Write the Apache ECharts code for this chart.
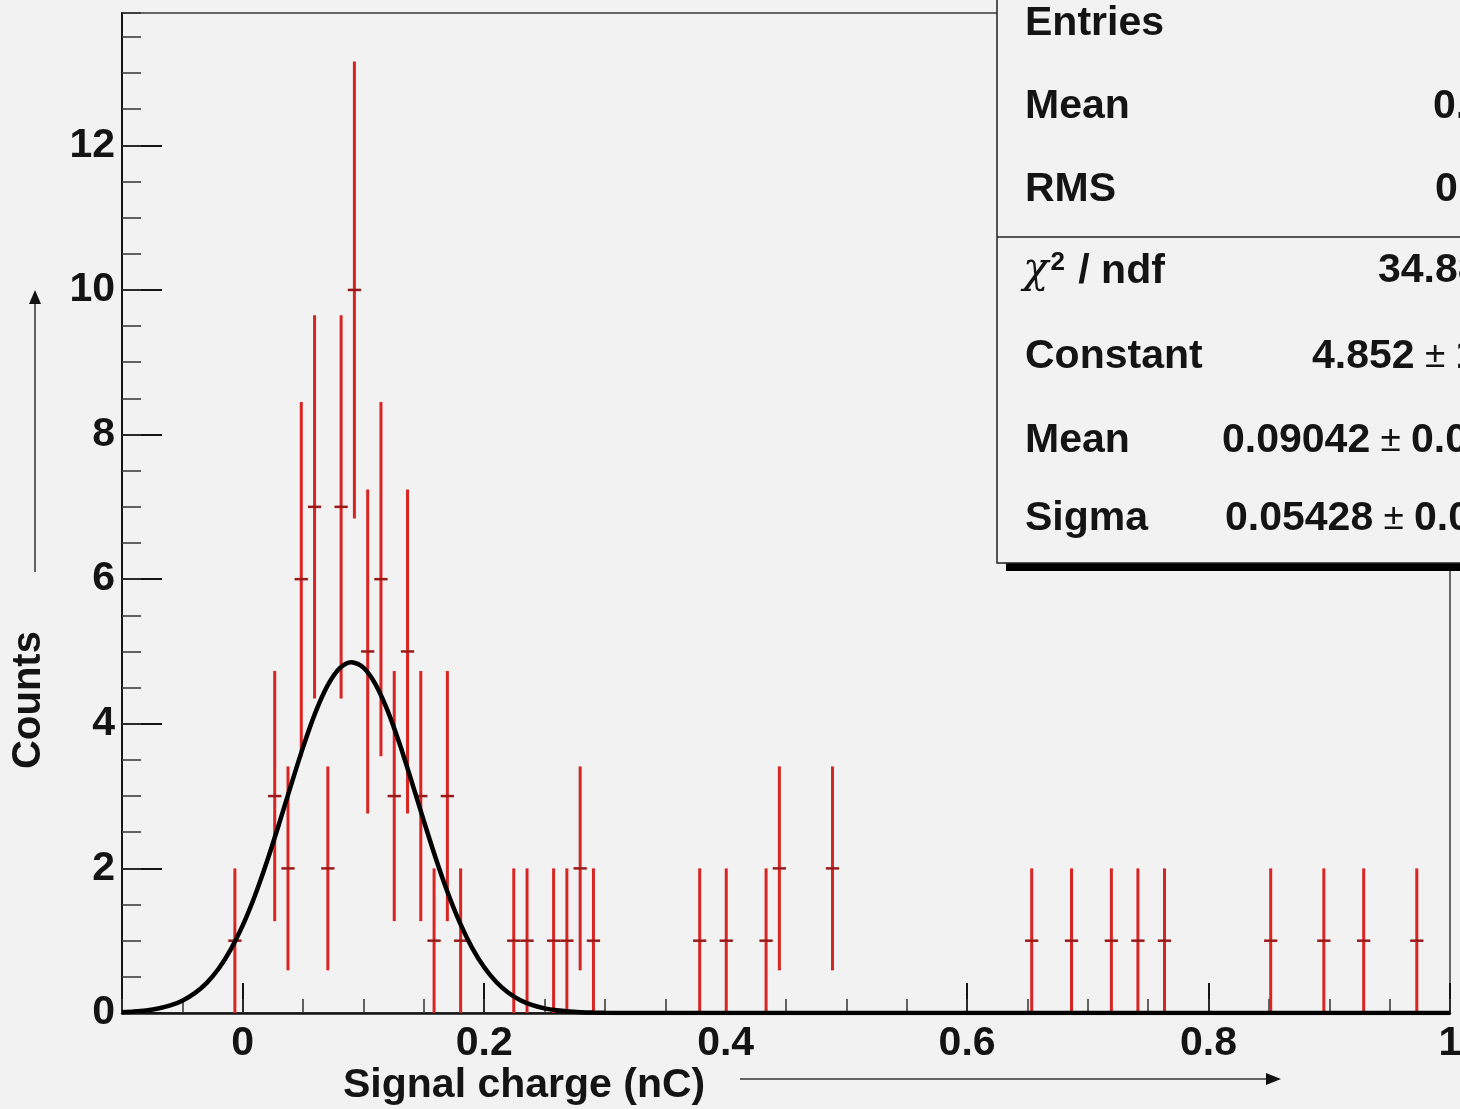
<!DOCTYPE html>
<html>
<head>
<meta charset="utf-8">
<script src="https://cdn.jsdelivr.net/npm/echarts@6/dist/echarts.min.js"></script>
<style>
html,body{margin:0;padding:0;background:#f2f2f2;}
#c{width:1460px;height:1109px;}
</style>
</head>
<body>
<div id="c"></div>
<script>
// ---------- data ----------
const binCenters = [-0.0065,0.0265,0.0375,0.0485,0.0595,0.0705,0.0815,0.0925,0.1035,0.1145,0.1255,0.1365,0.1475,0.1585,0.1695,0.1805,
                    0.2245,0.2355,0.2575,0.2685,0.2795,0.2905,0.3785,0.4005,0.4335,0.4445,0.4885,
                    0.6535,0.6865,0.7195,0.7415,0.7635,0.8515,0.8955,0.9285,0.9725];
const counts = [1,3,2,6,7,2,7,10,5,6,3,5,3,1,3,1,
                1,1,1,1,2,1,1,1,1,2,2,
                1,1,1,1,1,1,1,1,1];
const errors = [1,1.73,1.41,2.45,2.65,1.41,2.65,3.16,2.24,2.45,1.73,2.24,1.73,1,1.73,1,
                1,1,1,1,1.41,1,1,1,1,1.41,1.41,
                1,1,1,1,1,1,1,1,1];
const binWidth = 0.011;

// Gaussian fit curve (Constant 4.852, Mean 0.09042, Sigma 0.05428), sampled values
const fitX = [-0.10,-0.09,-0.08,-0.07,-0.06,-0.05,-0.04,-0.03,-0.02,-0.01,0.00,0.01,0.02,0.03,0.04,0.05,0.06,0.07,0.08,0.09,
              0.10,0.11,0.12,0.13,0.14,0.15,0.16,0.17,0.18,0.19,0.20,0.21,0.22,0.23,0.24,0.25,0.26,0.27,0.28,0.29,0.30,
              0.32,0.35,0.40,0.60,0.80,1.00];
const fitY = [0.0103,0.0194,0.0351,0.0616,0.1043,0.1709,0.2707,0.4141,0.6127,0.8763,1.2115,1.619,2.092,2.611,3.152,3.677,4.147,4.521,4.763,4.852,
              4.777,4.546,4.182,3.719,3.197,2.657,2.134,1.656,1.243,0.9015,0.6322,0.4287,0.2808,0.1779,0.1089,0.0644,0.0368,0.0204,0.0109,0.0056,0.0028,
              0.0006,0,0,0,0,0];

const xTickValues = [0,0.2,0.4,0.6,0.8,1];
const yTickValues = [0,2,4,6,8,10,12];
const xRange = [-0.1, 1.0];
const yRange = [0, 13.83];

const xTitle = 'Signal charge (nC)';
const yTitle = 'Counts';
const statsLabels = ['Entries','Mean','RMS','CHI','Constant','Mean','Sigma'];
const statsValues = ['', '0.', '0.', '34.88', '4.852 ± 1', '0.09042 ± 0.0', '0.05428 ± 0.0'];

// ---------- styling ----------
const FONT = '"Liberation Sans", Arial, Helvetica, sans-serif';
const BG = '#f2f2f2';
const INK = '#141414';
const RED = '#d92424';

const chart = echarts.init(document.getElementById('c'), null, {renderer:'canvas'});

const barData = binCenters.map((x,i)=>[x, counts[i], errors[i]]);
const fitData = fitX.map((x,i)=>[x, fitY[i]]);

const rowY = [24, 107, 190, 271, 357, 441, 519];
const valueX = [null, 1433, 1435, 1378, 1312, 1222, 1225];

const statsGraphics = [];
statsGraphics.push({type:'rect', z:100, shape:{x:1006, y:-10, width:520, height:581}, style:{fill:'#000'}});
statsGraphics.push({type:'rect', z:101, shape:{x:997, y:-10, width:520, height:573}, style:{fill:BG, stroke:'#222', lineWidth:1.5}});
statsGraphics.push({type:'line', z:102, shape:{x1:997, y1:237, x2:1470, y2:237}, style:{stroke:'#222', lineWidth:1.5}});
statsLabels.forEach((lab,i)=>{
  if (lab === 'CHI') {
    statsGraphics.push({type:'text', z:103, x:1023, y:rowY[i],
      style:{text:'{c|χ}{s|2}{t| / ndf}', verticalAlign:'middle', align:'left',
        rich:{
          c:{font:'italic 42px "DejaVu Serif", serif', fill:INK, verticalAlign:'bottom'},
          s:{font:'bold 26px '+FONT, fill:INK, verticalAlign:'top', padding:[0,2,0,2]},
          t:{font:'bold 41px '+FONT, fill:INK, verticalAlign:'bottom'}
        }}});
  } else {
    statsGraphics.push({type:'text', z:103, x:1025, y:rowY[i],
      style:{text:lab, font:'bold 41px '+FONT, fill:INK, align:'left', verticalAlign:'middle'}});
  }
  if (statsValues[i]) {
    const parts = statsValues[i].split(' ± ');
    let txt = '{v|'+parts[0]+'}';
    if (parts.length > 1) txt += '{p| ± }{v|'+parts[1]+'}';
    statsGraphics.push({type:'text', z:103, x:valueX[i], y:rowY[i],
      style:{text:txt, align:'left', verticalAlign:'middle',
        rich:{v:{font:'bold 41px '+FONT, fill:INK}, p:{font:'37px '+FONT, fill:INK}}}});
  }
});

const option = {
  backgroundColor: BG,
  animation: false,
  grid: {left:122, right:10, top:13, bottom:96, show:true, borderColor:'#3a3a3a', borderWidth:1.5,
         backgroundColor:'transparent', containLabel:false, outerBoundsMode:'none'},
  xAxis: [
    {type:'value', min:xRange[0], max:xRange[1], position:'bottom',
     axisLine:{onZero:false, lineStyle:{color:INK, width:2.5}},
     axisTick:{inside:true, length:30, customValues:xTickValues, lineStyle:{color:INK, width:2}},
     axisLabel:{customValues:xTickValues, margin:10, fontSize:41, fontWeight:'bold', fontFamily:FONT, color:INK},
     splitLine:{show:false}},
    {type:'value', min:xRange[0], max:xRange[1], interval:0.05, position:'bottom',
     axisLine:{show:false, onZero:false},
     axisTick:{inside:true, length:14, lineStyle:{color:'#333', width:1.5}},
     axisLabel:{show:false}, splitLine:{show:false}}
  ],
  yAxis: [
    {type:'value', min:yRange[0], max:yRange[1], position:'left',
     axisLine:{show:true, onZero:false, lineStyle:{color:INK, width:2}},
     axisTick:{show:true, inside:true, length:40, customValues:yTickValues, lineStyle:{color:INK, width:2}},
     axisLabel:{customValues:yTickValues, margin:7, padding:[10,0,0,0], fontSize:41, fontWeight:'bold', fontFamily:FONT, color:INK},
     splitLine:{show:false}},
    {type:'value', min:yRange[0], max:yRange[1], interval:0.5, position:'left',
     axisLine:{show:false, onZero:false},
     axisTick:{show:true, inside:true, length:19, lineStyle:{color:'#333', width:1.5}},
     axisLabel:{show:false}, splitLine:{show:false}}
  ],
  series: [
    {type:'custom', xAxisIndex:0, yAxisIndex:0, data:barData, encode:{x:0, y:1}, z:2, clip:false,
     renderItem: function(params, api){
       const x = api.value(0), v = api.value(1), e = api.value(2);
       const top = api.coord([x, v+e]), bot = api.coord([x, v-e]);
       const l = api.coord([x-binWidth/2, v]), r = api.coord([x+binWidth/2, v]);
       return {type:'group', children:[
         {type:'line', shape:{x1:top[0], y1:top[1], x2:bot[0], y2:bot[1]}, style:{stroke:RED, lineWidth:3}},
         {type:'line', shape:{x1:l[0], y1:l[1], x2:r[0], y2:r[1]}, style:{stroke:'#9a1a1a', lineWidth:2.5}}
       ]};
     }},
    {type:'line', xAxisIndex:0, yAxisIndex:0, data:fitData, symbol:'none', smooth:0.3, z:3,
     lineStyle:{color:'#000', width:4.5}}
  ],
  graphic: [
    {type:'text', x:343, y:1086, style:{text:xTitle, font:'bold 41px '+FONT, fill:INK, align:'left', verticalAlign:'middle'}},
    {type:'line', shape:{x1:740, y1:1079, x2:1268, y2:1079}, style:{stroke:'#333', lineWidth:1.5}},
    {type:'polygon', shape:{points:[[1281,1079],[1266,1073],[1266,1085]]}, style:{fill:'#111'}},
    {type:'text', x:29, y:700, rotation:Math.PI/2, style:{text:yTitle, font:'bold 40px '+FONT, fill:INK, align:'center', verticalAlign:'middle'}},
    {type:'line', shape:{x1:35, y1:572, x2:35, y2:302}, style:{stroke:'#333', lineWidth:1.5}},
    {type:'polygon', shape:{points:[[35,290],[29,304],[41,304]]}, style:{fill:'#111'}}
  ].concat(statsGraphics)
};
chart.setOption(option);
</script>
</body>
</html>
